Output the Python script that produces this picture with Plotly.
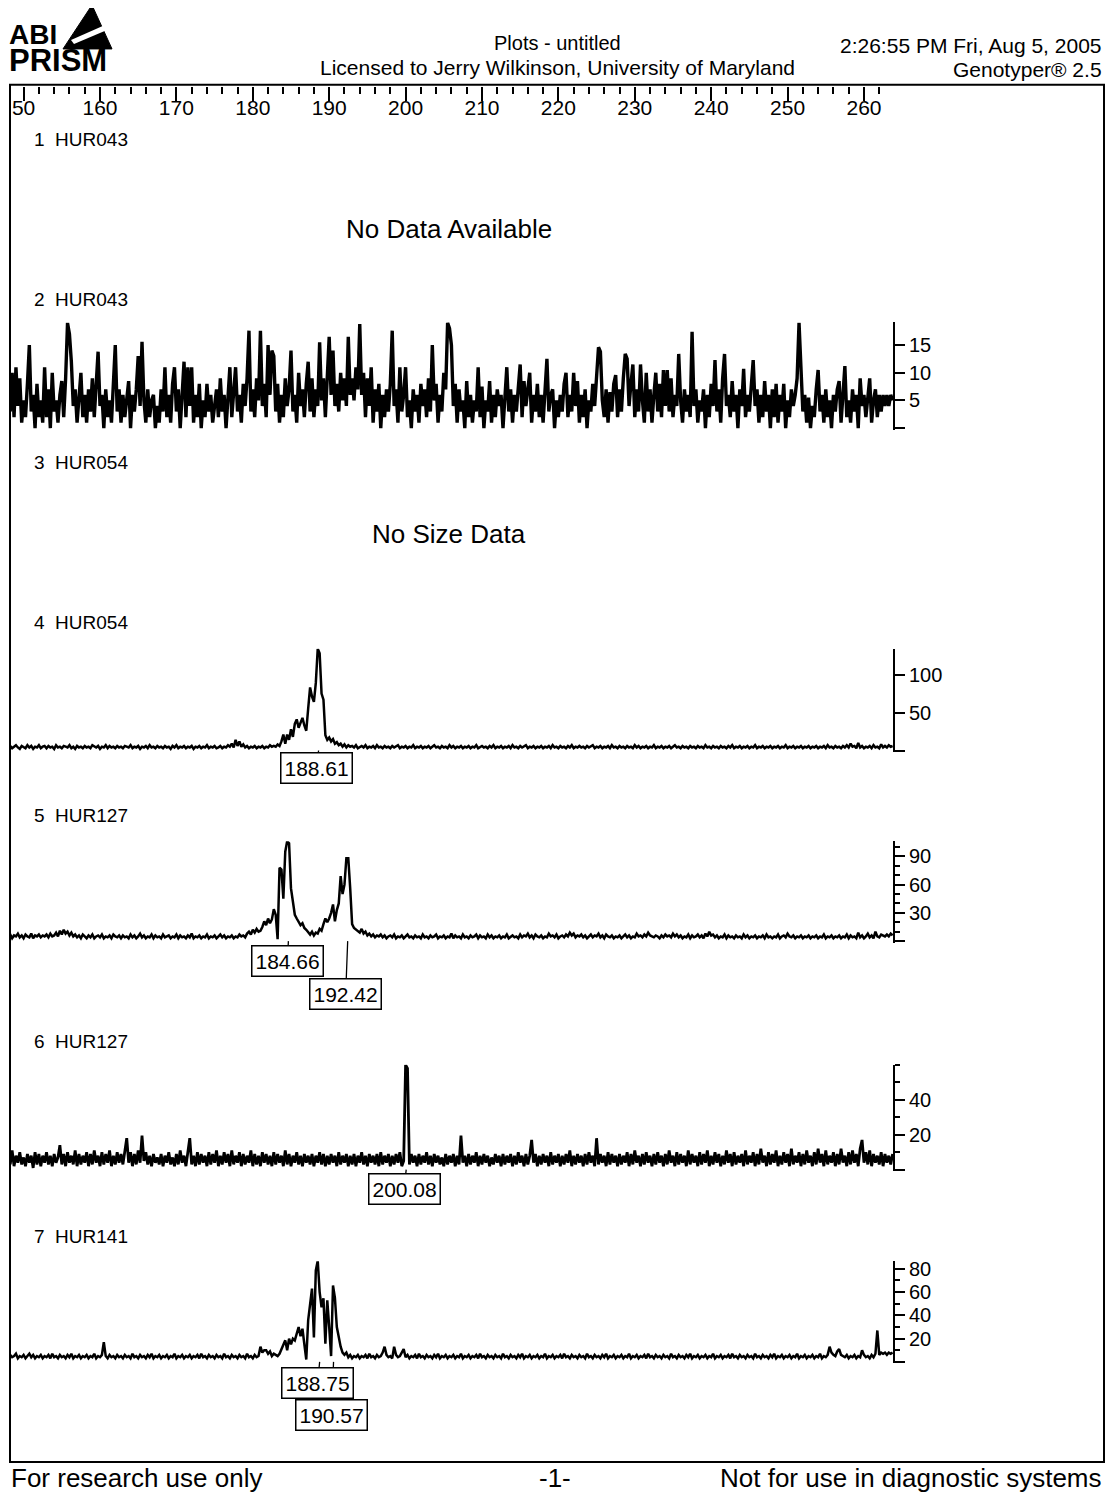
import plotly.graph_objects as go

PAGE_W, PAGE_H = 1114, 1496
BODY_MARGIN = 8  # the html page places the figure 8px from the top-left corner
W, H = PAGE_W - BODY_MARGIN, PAGE_H - BODY_MARGIN


def px(x):
    return (x - BODY_MARGIN) / W


def py(y):
    return 1 - (y - BODY_MARGIN) / H


FONT = "Liberation Sans, Arial, Helvetica, sans-serif"

# ---------------- data ----------------
SIZE_START = 148.0
SIZE_STEP = 0.25

size_ticks = [150, 160, 170, 180, 190, 200, 210, 220, 230, 240, 250, 260]
size_tick_labels = ["50", "160", "170", "180", "190", "200", "210", "220", "230", "240", "250", "260"]

lane_titles = ["1  HUR043", "2  HUR043", "3  HUR054", "4  HUR054", "5  HUR127", "6  HUR127", "7  HUR141"]
lane1_message = "No Data Available"
lane3_message = "No Size Data"

lane2_signal = [
    9, 3, 10, 2, 11, 4, 9, 1, 5, 2, 8, 15, 3, 6, 0, 8, 2, 5, 1, 11,
    2, 7, 0, 10, 3, 5, 1, 6, 8.5, 2, 9, 19, 17, 12, 4, 7, 1, 6, 10, 2,
    6, 1, 7, 3, 9, 2, 8, 13.8, 4, 6, 0, 7, 2, 5, 1, 8, 15, 3, 7, 1,
    6, 2, 5, 8.5, 0, 6, 3, 7, 13, 4, 15.6, 5, 1, 7, 2, 5, 6, 0, 4, 1,
    7, 3, 11, 2, 6, 1, 8, 11, 3, 7, 0, 6, 12, 2, 11, 4, 11, 1, 6, 2,
    8, 0, 5, 2, 8, 3, 6, 1, 4, 7, 2, 9, 3, 6, 0, 5, 11, 2, 7, 11,
    3, 6, 1, 8, 4, 9, 17.6, 3, 7, 2, 9, 5, 17.6, 4, 8, 2, 15, 6, 14, 13,
    3, 8, 1, 6, 2, 9, 4, 7, 14, 3, 6, 1, 10, 4, 7, 2, 8, 12, 3, 9,
    2, 7, 4, 15.5, 5, 9, 2, 8, 16.5, 6, 14, 4, 8, 3, 10, 5, 9, 4, 16.5, 6,
    9, 5, 11, 7, 18.8, 6, 10, 2, 9, 4, 11, 1, 7, 3, 8, 0, 6, 2, 7, 3,
    8, 17.6, 4, 7, 1, 11, 3, 6, 11, 2, 5, 0, 7, 3, 6, 1, 8, 4, 7, 2,
    9, 3, 15, 5, 8, 1, 6, 3, 10, 7, 19, 18, 15, 4, 8, 1, 7, 3, 5, 0,
    8.5, 2, 6, 1, 5, 3, 11, 2, 7.5, 0, 5, 3, 8.5, 1, 6, 2, 7, 4, 6, 0,
    5, 11, 3, 7, 1, 6, 3, 8, 11.5, 2, 8.5, 4, 7, 10, 1, 6, 3, 8, 2, 6,
    1, 7, 12.5, 3, 6, 7, 0, 5, 2, 6, 3, 8, 10, 2, 6, 3, 10, 4, 8.5, 1,
    6, 2, 7, 0, 5, 3, 8, 4, 9, 14.6, 13.8, 5, 2, 7, 1, 6.5, 3, 8, 9.6, 2,
    7, 3, 9, 13.4, 12.5, 4, 8, 11.5, 2, 7, 3, 11.5, 5, 1, 10, 3, 7, 1, 6, 10,
    3, 8, 2, 10.5, 4, 10.5, 3, 9, 2, 6, 4, 13.4, 5, 1, 7, 3, 6, 2, 17.4, 4,
    7, 1, 5, 3, 7, 0, 6, 2, 8, 4, 12.3, 3, 7, 1, 9, 13.4, 4, 6, 2, 8.5,
    3, 6, 0, 7, 4, 10.7, 2, 6, 3, 8, 12.3, 4, 7, 1, 6, 2, 8.5, 3, 6, 0,
    7, 2, 8, 1, 6, 3, 8, 0, 5, 2, 7, 4, 6, 9, 19, 11, 3, 6, 1, 5.5,
    0, 4, 2, 7, 10.5, 3, 6, 1, 7, 2, 5, 0, 6, 3, 7, 8.5, 1, 6, 11.2, 2,
    5, 1, 7, 3, 6, 0, 9, 4, 6, 2, 5, 9, 1, 5, 7, 2, 6, 3, 6, 4,
    6, 4, 6, 5,
]

lane4_signal = [
    4, 6, 3, 5, 7, 4, 2, 6, 5, 3, 7, 4, 6, 2, 5, 4, 7, 3, 5, 6,
    3, 6, 4, 5, 2, 7, 4, 5, 3, 6, 5, 4, 7, 3, 5, 2, 6, 4, 5, 3,
    6, 4, 5, 3, 7, 5, 4, 6, 2, 5, 4, 7, 3, 6, 4, 5, 3, 6, 4, 5,
    3, 6, 5, 4, 7, 3, 5, 4, 6, 2, 5, 4, 6, 3, 7, 4, 5, 3, 6, 4,
    5, 3, 6, 4, 5, 2, 6, 4, 7, 3, 5, 4, 6, 3, 5, 4, 6, 2, 5, 4,
    6, 3, 5, 4, 7, 3, 5, 4, 6, 3, 4, 6, 3, 5, 4, 7, 5, 9, 4, 14,
    6, 12, 5, 8, 4, 6, 3, 5, 4, 6, 3, 5, 4, 6, 3, 5, 4, 7, 5, 6,
    5, 8, 6, 12, 21, 9, 21, 14, 28, 18, 35, 41, 30, 38, 43, 33, 26, 55, 83, 71,
    64, 89, 134, 128, 75, 67, 20, 14, 17, 12, 15, 9, 11, 7, 9, 5, 8, 4, 7, 5,
    6, 4, 7, 3, 5, 6, 4, 7, 3, 5, 4, 6, 3, 7, 4, 5, 3, 6, 4, 5,
    3, 6, 4, 5, 7, 3, 5, 4, 6, 3, 5, 4, 7, 3, 5, 4, 6, 3, 5, 4,
    6, 3, 5, 7, 4, 5, 3, 6, 4, 5, 3, 7, 4, 6, 3, 5, 4, 6, 3, 5,
    4, 6, 3, 5, 4, 7, 3, 5, 6, 4, 5, 3, 6, 4, 7, 3, 5, 4, 6, 3,
    5, 4, 6, 3, 7, 4, 5, 3, 6, 4, 5, 7, 3, 5, 4, 6, 3, 5, 4, 6,
    3, 5, 4, 6, 3, 7, 4, 5, 3, 6, 4, 5, 3, 6, 4, 7, 3, 5, 4, 6,
    4, 5, 3, 6, 4, 5, 7, 3, 5, 4, 6, 3, 5, 4, 6, 3, 7, 4, 5, 3,
    6, 4, 5, 3, 6, 4, 5, 3, 7, 4, 6, 3, 5, 4, 6, 3, 5, 4, 7, 3,
    5, 4, 6, 3, 5, 4, 6, 3, 5, 7, 4, 5, 3, 6, 4, 5, 3, 6, 4, 5,
    3, 6, 4, 5, 3, 7, 4, 5, 3, 6, 4, 5, 3, 6, 4, 5, 3, 6, 4, 7,
    3, 5, 4, 6, 3, 5, 4, 6, 3, 5, 4, 7, 3, 5, 4, 6, 3, 5, 4, 6,
    3, 5, 4, 6, 3, 5, 4, 7, 3, 5, 4, 6, 3, 5, 4, 6, 3, 5, 4, 6,
    3, 5, 4, 6, 3, 5, 4, 6, 3, 7, 4, 5, 3, 6, 4, 5, 3, 6, 4, 7,
    4, 9, 5, 6, 3, 10, 4, 6, 3, 5, 4, 6, 3, 7, 4, 5, 3, 8, 4, 6,
    4, 7, 5, 6,
]

lane5_signal = [
    4, 7, 3, 6, 5, 8, 4, 6, 3, 7, 5, 4, 8, 3, 6, 5, 7, 4, 6, 5,
    7, 4, 8, 5, 6, 9, 5, 11, 7, 12, 8, 10, 6, 9, 5, 7, 4, 6, 3, 7,
    5, 3, 6, 4, 7, 3, 5, 6, 4, 7, 3, 5, 4, 6, 3, 7, 5, 4, 6, 3,
    6, 4, 5, 3, 7, 4, 6, 3, 5, 8, 4, 6, 3, 5, 4, 7, 3, 6, 4, 5,
    3, 7, 4, 5, 6, 3, 5, 4, 7, 3, 6, 4, 5, 3, 6, 4, 8, 3, 5, 4,
    6, 3, 5, 4, 7, 3, 5, 4, 6, 3, 5, 7, 4, 6, 3, 5, 4, 6, 3, 5,
    4, 7, 5, 6, 4, 8, 10, 7, 12, 9, 13, 10, 11, 15, 21, 17, 24, 19, 23, 34,
    28, 2, 78, 76, 45, 95, 106, 104, 56, 40, 28, 24, 21, 17, 19, 14, 12, 9, 7, 10,
    6, 9, 8, 13, 11, 18, 24, 20, 24, 30, 39, 21, 33, 40, 69, 50, 60, 88, 88, 56,
    18, 14, 12, 10, 9, 13, 8, 10, 6, 8, 5, 7, 4, 6, 5, 7, 4, 6, 3, 5,
    6, 4, 7, 3, 5, 4, 6, 3, 5, 7, 4, 5, 3, 6, 4, 5, 3, 7, 4, 5,
    3, 6, 4, 5, 7, 3, 5, 4, 6, 3, 5, 4, 8, 3, 6, 4, 5, 3, 7, 4,
    5, 3, 6, 4, 5, 7, 3, 6, 4, 5, 3, 7, 4, 6, 3, 5, 4, 6, 3, 5,
    4, 7, 3, 5, 6, 4, 5, 3, 7, 4, 6, 5, 8, 4, 6, 3, 7, 5, 4, 6,
    3, 5, 4, 8, 5, 6, 4, 7, 3, 5, 6, 4, 7, 5, 9, 6, 8, 4, 6, 5,
    7, 4, 6, 3, 5, 7, 4, 6, 5, 8, 4, 6, 3, 7, 5, 4, 6, 3, 5, 4,
    6, 3, 5, 7, 4, 6, 3, 5, 4, 8, 5, 6, 4, 7, 5, 9, 6, 5, 4, 6,
    5, 3, 6, 4, 7, 5, 6, 4, 8, 5, 7, 4, 6, 3, 5, 4, 7, 3, 6, 4,
    5, 7, 4, 6, 3, 8, 5, 10, 6, 7, 4, 6, 3, 5, 4, 7, 3, 6, 4, 5,
    3, 6, 4, 5, 3, 7, 4, 6, 3, 5, 4, 6, 3, 5, 4, 6, 3, 7, 4, 5,
    3, 5, 4, 7, 3, 5, 6, 4, 8, 5, 4, 6, 3, 5, 4, 6, 3, 5, 4, 6,
    3, 5, 4, 6, 3, 5, 4, 7, 3, 5, 4, 6, 3, 5, 4, 6, 3, 5, 4, 7,
    3, 6, 4, 5, 3, 9, 4, 6, 3, 5, 8, 4, 6, 3, 10, 5, 4, 7, 6, 5,
    7, 5, 8, 6,
]

lane6_signal = [
    9, 3, 11, 2, 8, 4, 10, 3, 7, 2, 9, 4, 8, 1, 10, 3, 9, 2, 8, 4,
    10, 3, 8, 2, 9, 4, 7, 14, 3, 9, 2, 10, 4, 8, 3, 11, 2, 9, 3, 8,
    4, 10, 2, 9, 3, 11, 4, 8, 2, 10, 3, 9, 4, 11, 2, 8, 3, 10, 4, 9,
    3, 11, 18, 4, 10, 2, 9, 3, 11, 4, 19.5, 5, 10, 3, 8, 2, 9, 4, 7, 3,
    9, 2, 8, 4, 10, 3, 7, 2, 9, 3, 11, 4, 8, 2, 9, 18, 3, 8, 2, 10,
    3, 9, 4, 8, 2, 10, 3, 9, 4, 11, 2, 8, 3, 10, 4, 9, 2, 11, 3, 8,
    4, 10, 2, 9, 3, 8, 4, 11, 2, 9, 3, 8, 2, 10, 4, 9, 3, 8, 2, 10,
    3, 9, 4, 8, 2, 11, 3, 9, 2, 8, 4, 10, 3, 8, 2, 9, 4, 8, 3, 9,
    2, 8, 4, 10, 3, 9, 2, 8, 3, 9, 4, 8, 2, 10, 3, 8, 4, 9, 2, 8,
    3, 9, 2, 8, 4, 10, 3, 8, 2, 9, 4, 8, 3, 9, 2, 10, 3, 8, 4, 9,
    2, 8, 3, 9, 4, 10, 2, 5, 60, 58, 3, 9, 4, 8, 2, 9, 3, 8, 4, 10,
    3, 8, 2, 9, 4, 8, 3, 7, 2, 9, 3, 8, 4, 9, 2, 8, 3, 19.5, 4, 8,
    2, 9, 3, 8, 4, 10, 2, 8, 3, 9, 4, 8, 2, 7, 3, 9, 4, 8, 2, 9,
    3, 8, 4, 9, 2, 8, 3, 10, 4, 8, 2, 9, 3, 8, 17, 4, 9, 2, 8, 3,
    9, 4, 8, 2, 10, 3, 8, 4, 9, 2, 8, 3, 9, 4, 11, 2, 8, 3, 9, 4,
    8, 2, 9, 3, 10, 4, 8, 2, 18, 3, 9, 4, 8, 2, 10, 3, 9, 4, 8, 2,
    9, 3, 8, 4, 10, 2, 9, 3, 11, 4, 8, 2, 9, 3, 10, 4, 8, 2, 9, 3,
    10, 4, 8, 2, 9, 3, 11, 4, 8, 2, 10, 3, 9, 4, 8, 2, 11, 3, 9, 4,
    8, 2, 10, 3, 9, 4, 11, 2, 8, 3, 10, 4, 9, 2, 8, 3, 11, 4, 9, 2,
    10, 3, 8, 4, 9, 2, 11, 3, 8, 4, 10, 2, 9, 3, 12, 4, 8, 2, 10, 3,
    9, 4, 11, 2, 8, 3, 10, 4, 9, 2, 12, 3, 8, 4, 10, 2, 9, 3, 11, 4,
    8, 2, 10, 3, 12, 4, 9, 2, 11, 3, 8, 4, 10, 2, 9, 3, 12, 4, 8, 2,
    10, 3, 11, 4, 9, 2, 12, 17, 4, 10, 3, 11, 2, 9, 4, 8, 3, 10, 2, 9,
    4, 8, 3, 9,
]

lane7_signal = [
    3, 6, 4, 5, 7, 3, 5, 4, 6, 3, 5, 7, 4, 6, 3, 5, 4, 6, 3, 5,
    4, 6, 3, 7, 4, 5, 3, 6, 4, 5, 3, 6, 4, 7, 3, 5, 4, 6, 3, 5,
    4, 6, 3, 5, 4, 7, 3, 5, 4, 6, 17, 5, 3, 6, 4, 5, 3, 6, 4, 5,
    3, 6, 4, 5, 3, 7, 4, 5, 3, 6, 4, 5, 3, 6, 4, 7, 3, 5, 4, 6,
    3, 5, 4, 6, 3, 5, 4, 7, 3, 5, 4, 6, 3, 5, 4, 6, 3, 5, 4, 6,
    3, 7, 4, 5, 3, 6, 4, 5, 3, 6, 4, 5, 3, 7, 4, 5, 3, 6, 4, 5,
    3, 6, 4, 5, 3, 7, 4, 5, 3, 6, 4, 5, 13, 8, 10, 10, 7, 9, 5, 7,
    6, 5, 7, 11, 16, 18.5, 10, 20, 15, 20, 18.5, 24, 30, 22, 28.5, 15, 2, 36, 50, 63,
    21, 78.6, 87, 60, 47, 54.6, 15.6, 53, 30, 5, 65.7, 55, 30, 21, 13, 8, 6, 8, 4, 6,
    3, 5, 4, 6, 3, 5, 4, 6, 3, 7, 4, 5, 3, 6, 4, 5, 8, 13, 6, 4,
    5, 3, 13, 6, 4, 5, 8, 11, 4, 6, 3, 5, 4, 6, 3, 7, 4, 5, 3, 6,
    4, 5, 3, 6, 4, 7, 3, 5, 4, 6, 3, 5, 4, 6, 3, 5, 4, 7, 3, 5,
    4, 6, 3, 5, 4, 6, 3, 7, 4, 5, 3, 6, 4, 5, 3, 6, 4, 5, 3, 7,
    4, 5, 3, 6, 4, 5, 3, 6, 4, 7, 3, 5, 4, 6, 3, 5, 4, 6, 3, 5,
    4, 7, 3, 5, 4, 6, 3, 5, 4, 6, 3, 7, 4, 5, 3, 6, 4, 5, 3, 6,
    4, 5, 3, 7, 4, 5, 3, 6, 4, 5, 3, 6, 4, 7, 3, 5, 4, 6, 3, 5,
    4, 6, 3, 5, 4, 7, 3, 5, 4, 6, 3, 5, 4, 6, 3, 7, 4, 5, 3, 6,
    4, 5, 3, 6, 4, 5, 3, 7, 4, 5, 3, 6, 4, 5, 3, 6, 4, 7, 3, 5,
    4, 6, 3, 5, 4, 6, 3, 5, 4, 7, 3, 5, 4, 6, 3, 5, 4, 6, 3, 7,
    4, 5, 3, 6, 4, 5, 3, 6, 4, 5, 3, 7, 4, 5, 3, 6, 4, 5, 3, 6,
    4, 7, 3, 5, 4, 6, 3, 5, 4, 6, 3, 5, 4, 7, 3, 5, 4, 6, 3, 5,
    4, 6, 3, 5, 4, 7, 3, 5, 4, 6, 13, 8, 6, 5, 9, 11, 6, 5, 4, 6,
    3, 5, 4, 6, 3, 5, 4, 10, 6, 4, 5, 3, 6, 4, 7, 27, 6, 8, 7, 8,
    6, 8, 7, 8,
]

lane2_yticks = [0, 5, 10, 15]
lane4_yticks = [0, 50, 100]
lane5_yticks = [0, 30, 60, 90]
lane6_yticks = [0, 20, 40]
lane7_yticks = [0, 20, 40, 60, 80]

lane4_peaks = [188.61]
lane5_peaks = [184.66, 192.42]
lane6_peaks = [200.08]
lane7_peaks = [190.57, 188.75]

# ---------------- layout geometry (page pixels) ----------------
X_LEFT_PX, X_RIGHT_PX = 10, 893
X_MIN, X_MAX = 148.22, 263.8

panels = [
    dict(signal=lane2_signal, yticks=lane2_yticks, base=426, top=320, top_val=19.1, minor=None,
         width=3.4, peaks=[], offsets=[]),
    dict(signal=lane4_signal, yticks=lane4_yticks, base=749, top=647, top_val=134, minor=None,
         width=2.5, peaks=lane4_peaks, offsets=[(-2, 17)]),
    dict(signal=lane5_signal, yticks=lane5_yticks, base=940, top=840, top_val=106, minor=10,
         width=2.5, peaks=lane5_peaks, offsets=[(-1, 20), (-2, 53)]),
    dict(signal=lane6_signal, yticks=lane6_yticks, base=1169, top=1064, top_val=60, minor=10,
         width=2.8, peaks=lane6_peaks, offsets=[(-2, 19)]),
    dict(signal=lane7_signal, yticks=lane7_yticks, base=1361.6, top=1260.7, top_val=86.6, minor=10,
         width=2.5, peaks=lane7_peaks, offsets=[(-2, 53), (-2, 21)]),
]

fig = go.Figure()
layout_axes = {}
annotations = []

for i, p in enumerate(panels):
    k = i + 2
    yname = f"y{k}"
    sizes = [SIZE_START + j * SIZE_STEP for j in range(len(p["signal"]))]
    fig.add_trace(go.Scatter(
        x=sizes, y=p["signal"], mode="lines",
        line=dict(color="black", width=p["width"]),
        xaxis="x", yaxis=yname, showlegend=False, hoverinfo="skip",
    ))
    scale = (p["base"] - p["top"]) / p["top_val"]
    pad = 1.5
    yax = dict(
        domain=[py(p["base"] + pad), py(p["top"])],
        range=[-pad / scale, p["top_val"]],
        anchor="x", side="right",
        showline=True, linecolor="black", linewidth=2,
        ticks="outside", ticklen=10, tickwidth=2, tickcolor="black",
        tickmode="array", tickvals=p["yticks"],
        ticktext=["" if v == 0 else str(v) for v in p["yticks"]],
        tickfont=dict(family=FONT, size=20, color="black"),
        showgrid=False, zeroline=False, fixedrange=True,
    )
    if p["minor"]:
        yax["minor"] = dict(tickmode="linear", tick0=0, dtick=p["minor"], ticks="outside",
                            ticklen=5, tickwidth=1.5, tickcolor="black", showgrid=False)
    layout_axes["yaxis" + str(k)] = yax

    for val, (ax_off, ay_off) in zip(p["peaks"], p["offsets"]):
        annotations.append(dict(
            x=val, y=0, xref="x", yref=yname,
            text=f"{val:.2f}", showarrow=True, arrowhead=0, arrowwidth=1.3,
            arrowcolor="black", standoff=0, ax=ax_off, ay=ay_off,
            font=dict(family=FONT, size=21, color="black"),
            bordercolor="black", borderwidth=1.5, borderpad=3, bgcolor="white",
        ))

# lane titles
title_rows = [137, 297, 460, 621, 814, 1041, 1236]
for name, row in zip(lane_titles, title_rows):
    annotations.append(dict(
        x=px(32), y=py(row), xref="paper", yref="paper", xanchor="left", yanchor="middle",
        text=name.replace(" ", "\u00a0"), showarrow=False,
        font=dict(family=FONT, size=19, color="black"),
    ))

annotations.append(dict(x=px(449), y=py(209), xref="paper", yref="paper", text=lane1_message,
                        showarrow=False, font=dict(family=FONT, size=26, color="black")))
annotations.append(dict(x=px(449), y=py(532), xref="paper", yref="paper", text=lane3_message,
                        showarrow=False, font=dict(family=FONT, size=26, color="black")))

# header
header = [
    ("Plots - untitled", 557, 40, "center", 20),
    ("Licensed to Jerry Wilkinson, University of Maryland", 557, 65, "center", 21),
    ("2:26:55 PM Fri, Aug 5, 2005", 1104, 43, "right", 21),
    ("Genotyper\u00ae 2.5", 1104, 67, "right", 21),
]
for txt, x, y, anc, sz in header:
    annotations.append(dict(x=px(x), y=py(y), xref="paper", yref="paper", xanchor=anc, yanchor="middle",
                            text=txt, showarrow=False, font=dict(family=FONT, size=sz, color="black")))

# logo (two lines in one text block, tight line spacing like the original)
annotations.append(dict(
    x=px(7), y=py(46), xref="paper", yref="paper", xanchor="left", yanchor="middle",
    text="<b><span style='font-size:28px'>ABI</span><br><span style='font-size:31px'>PRISM</span></b>",
    showarrow=False, align="left", font=dict(family=FONT, size=21, color="black"),
))

# footer
footer = [
    ("For research use only", 9, "left"),
    ("-1-", 555, "center"),
    ("Not for use in diagnostic systems", 1104, "right"),
]
for txt, x, anc in footer:
    annotations.append(dict(x=px(x), y=py(1478), xref="paper", yref="paper", xanchor=anc, yanchor="middle",
                            text=txt, showarrow=False, font=dict(family=FONT, size=26, color="black")))

shapes = [
    dict(type="rect", xref="paper", yref="paper", x0=px(10), x1=px(1104), y0=py(1462), y1=py(82),
         line=dict(color="black", width=2), fillcolor="rgba(0,0,0,0)"),
    dict(type="path", xref="paper", yref="paper",
         path=f"M {px(63)} {py(46)} L {px(92)} {py(2)} L {px(112)} {py(46)} Z",
         fillcolor="black", line=dict(color="black", width=1)),
    dict(type="path", xref="paper", yref="paper",
         path=f"M {px(71)} {py(37)} L {px(105)} {py(22)} L {px(107)} {py(27)} L {px(74)} {py(41)} Z",
         fillcolor="white", line=dict(color="white", width=0)),
]

fig.update_layout(
    width=W, height=H,
    margin=dict(l=0, r=0, t=0, b=0),
    paper_bgcolor="white", plot_bgcolor="white",
    font=dict(family=FONT, color="black"),
    showlegend=False,
    xaxis=dict(
        domain=[px(X_LEFT_PX), px(X_RIGHT_PX)], range=[X_MIN, X_MAX],
        anchor="free", position=py(83), side="top",
        showline=False, showgrid=False, zeroline=False, fixedrange=True,
        ticks="inside", ticklen=14, tickwidth=1.5, tickcolor="black",
        tickmode="array", tickvals=size_ticks, ticktext=size_tick_labels,
        ticklabelposition="inside", ticklabelstandoff=1,
        tickfont=dict(family=FONT, size=21, color="black"),
        minor=dict(tickmode="linear", tick0=148, dtick=2, ticks="inside",
                   ticklen=7, tickwidth=1.5, tickcolor="black", showgrid=False),
    ),
    annotations=annotations,
    shapes=shapes,
    **layout_axes,
)

fig.write_html("out.html")
